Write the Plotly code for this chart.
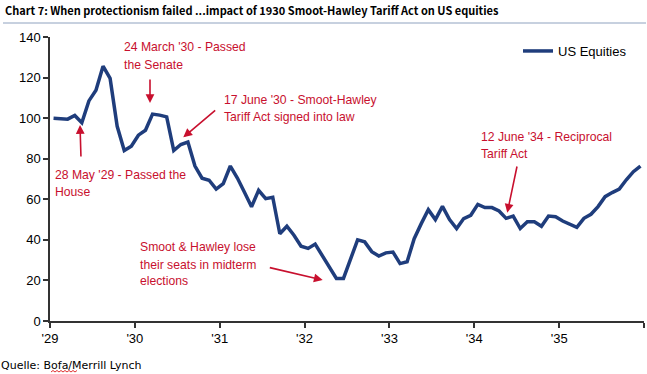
import numpy as np
import plotly.graph_objects as go

# Monthly US equities index, Jan 1929 .. Dec 1935
start_year = 1929
us_equities = [
    100, 99.8, 99.5, 101.3, 97.7, 108.5, 113.8, 125.6, 119.6, 96, 84, 86.2,
    91.6, 94, 102, 101.5, 100.6, 84, 87, 88.2, 76.4, 70.4, 69.4, 65,
    67.7, 76.4, 70.5, 63.5, 56.3, 64.4, 60.3, 61, 43, 46.7, 42.3, 36.9,
    35.8, 37.9, 32.5, 27, 21, 21, 30.8, 40, 39, 34.2, 32, 33.6,
    34, 28.3, 29.2, 40.6, 48, 54.9, 50, 56.5, 50, 45.6, 50.5, 52.1,
    57.5, 55.9, 55.9, 54.2, 50.6, 51.7, 45.6, 48.9, 48.9, 46.7, 51.7, 51.4,
    49.3, 47.7, 46.2, 50.6, 52.6, 56.4, 61.3, 63.3, 65, 69.6, 73.6, 76.4,
]
months = start_year + (np.arange(len(us_equities)) + 0.5) / 12.0

tick_years = [1929, 1930, 1931, 1932, 1933, 1934, 1935, 1936]
tick_labels = ["'29", "'30", "'31", "'32", "'33", "'34", "'35", ""]

RED = "#c8102e"
NAVY = "#1f3d7c"
ARIAL = "Liberation Sans, Arial, sans-serif"

# plot-area geometry (pixels)
W, H = 647, 374
L, R, T, B = 50, 644, 37, 321


def px_to_data(px, py):
    return 1929 + (px - L) / (R - L) * 7, (B - py) / (B - T) * 140


def px_to_paper(px, py):
    return (px - L) / (R - L), (B - py) / (B - T)


fig = go.Figure()
fig.add_trace(go.Scatter(
    x=months, y=us_equities, mode="lines", name="US Equities",
    line=dict(color=NAVY, width=3.5),
))

# annotation lines: (left px, center-y px, text)
note_lines = [
    (122, 47, "24 March '30 - Passed"), (122, 64.5, "the Senate"),
    (53, 175, "28 May '29 - Passed the"), (53, 192, "House"),
    (221.5, 100, "17 June '30 - Smoot-Hawley"), (221.5, 117, "Tariff Act signed into law"),
    (479, 137, "12 June '34 - Reciprocal"), (479, 154, "Tariff Act"),
    (138, 247, "Smoot & Hawley lose"), (138, 264.5, "their seats in midterm"), (138, 281, "elections"),
]
for px, py, txt in note_lines:
    xd, yd = px_to_data(px, py)
    fig.add_annotation(x=xd, y=yd, xref="x", yref="y", text=txt, showarrow=False,
                       xanchor="left", yanchor="middle", align="left",
                       font=dict(family=ARIAL, size=12.2, color=RED))

# arrows: (head px, tail px)
arrows = [
    ((150, 103), (150, 78)),
    ((80, 125), (81, 158)),
    ((183.3, 137.3), (216.7, 109)),
    ((507.3, 212.7), (517.3, 165)),
    ((322.7, 280), (268.3, 267.3)),
]
for (hx, hy), (tx, ty) in arrows:
    x0, y0 = px_to_data(hx, hy)
    x1, y1 = px_to_data(tx, ty)
    fig.add_annotation(x=x0, y=y0, ax=x1, ay=y1, xref="x", yref="y", axref="x", ayref="y",
                       text="", showarrow=True, arrowhead=2, arrowsize=1.1, arrowwidth=1.6,
                       arrowcolor=RED)

sx, sy = px_to_paper(0, 365)
fig.add_annotation(x=sx, y=sy, xref="paper", yref="paper", xanchor="left", yanchor="middle",
                   text="Quelle: Bofa/Merrill Lynch", showarrow=False, xshift=-1,
                   font=dict(family="DejaVu Sans", size=11, color="#000"))

# wavy spell-check underline under "Bofa"
pts = []
for k in range(14):
    px = 51 + k * 2
    py = 372 if k % 2 == 0 else 370.5
    pts.append(px_to_paper(px, py))
path = "M " + " L ".join(f"{x:.5f},{y:.5f}" for x, y in pts)
fig.add_shape(type="path", xref="paper", yref="paper", path=path,
              line=dict(color="#e03030", width=1))

# title underline
ux0, uy = px_to_paper(3, 23)
ux1, _ = px_to_paper(646, 23)
fig.add_shape(type="line", xref="paper", yref="paper", x0=ux0, x1=ux1, y0=uy, y1=uy,
              line=dict(color="#8fa2bf", width=1))

lx, ly = px_to_paper(518, 36)
fig.update_layout(
    width=W, height=H,
    margin=dict(l=L, r=W - R, t=T, b=H - B, autoexpand=False),
    paper_bgcolor="white", plot_bgcolor="white",
    title=dict(text="<b>Chart 7: When protectionism failed ...impact of 1930 Smoot-Hawley Tariff Act on US equities</b>",
               x=5 / W, xref="container", xanchor="left",
               y=1 - 11 / H, yref="container", yanchor="middle",
               font=dict(family="Noto Sans CJK SC", size=11, color="#000")),
    showlegend=True,
    legend=dict(x=lx, y=ly, xanchor="left", yanchor="top", bgcolor="rgba(0,0,0,0)",
                font=dict(family=ARIAL, size=13, color="#000")),
    xaxis=dict(range=[1929, 1936], tickvals=tick_years, ticktext=tick_labels,
               showgrid=False, zeroline=False, showline=True, linecolor="#333", linewidth=1.5,
               ticks="outside", ticklen=5, tickcolor="#333", tickwidth=1.5, automargin=False,
               tickfont=dict(family=ARIAL, size=13, color="#000")),
    yaxis=dict(range=[0, 140], dtick=20,
               showgrid=False, zeroline=False, showline=True, linecolor="#333", linewidth=1.5,
               ticks="outside", ticklen=5, tickcolor="#333", tickwidth=1.5, automargin=False,
               tickfont=dict(family=ARIAL, size=13, color="#000")),
)

fig.write_html("out.html", config={"displayModeBar": False},
               post_script="document.body.style.margin='0px';")
